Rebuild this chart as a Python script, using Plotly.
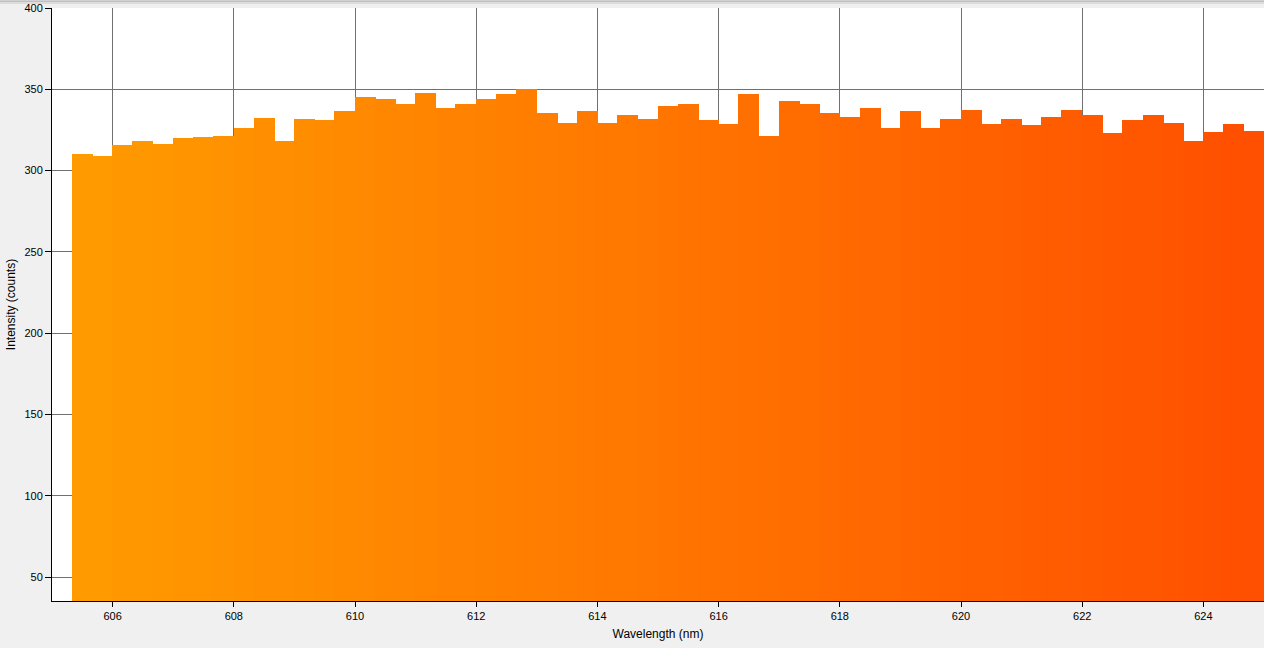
import plotly.graph_objects as go

# Spectrum bins (nm, bin centres) and measured intensity
wavelength = [
    605.50, 605.83, 606.17, 606.50, 606.83, 607.17, 607.50, 607.83, 608.17, 608.50,
    608.83, 609.17, 609.50, 609.83, 610.17, 610.50, 610.83, 611.17, 611.50, 611.83,
    612.17, 612.50, 612.83, 613.17, 613.50, 613.83, 614.17, 614.50, 614.83, 615.17,
    615.50, 615.83, 616.17, 616.50, 616.83, 617.17, 617.50, 617.83, 618.17, 618.50,
    618.83, 619.17, 619.50, 619.83, 620.17, 620.50, 620.83, 621.17, 621.50, 621.83,
    622.17, 622.50, 622.83, 623.17, 623.50, 623.83, 624.17, 624.50, 624.83,
]
intensity = [
    310, 309, 315.5, 318.5, 316.5, 320, 320.5, 321.5, 326, 332.5,
    318, 331.5, 331, 336.5, 345.5, 344, 340.8, 347.5, 338.8, 341,
    344, 347, 350, 335.5, 329.5, 336.5, 329.5, 334.5, 331.5, 339.5,
    340.7, 331, 328.5, 347, 321.5, 342.5, 341, 335.5, 332.7, 338.8,
    326, 336.5, 326.5, 331.5, 337.5, 328.5, 331.5, 328, 332.7, 337.5,
    334, 323, 331, 334.5, 329.5, 318.5, 323.5, 328.5, 324.5,
]
x_ticks = [606, 608, 610, 612, 614, 616, 618, 620, 622, 624]
y_ticks = [50, 100, 150, 200, 250, 300, 350, 400]


def wl_color(wl):
    # simple wavelength -> rgb for the orange/red band
    g = max(0, min(255, round(255 * (645 - wl) / 65)))
    return f"rgb(255,{g},0)"


fig = go.Figure()
fig.add_trace(go.Bar(
    x=wavelength, y=intensity, width=0.345,
    marker=dict(color=[wl_color(w) for w in wavelength], line_width=0),
    showlegend=False,
))

font = "Liberation Sans, Arial, sans-serif"
fig.update_layout(
    width=1264, height=648,
    margin=dict(l=52, r=0, t=8, b=47),
    paper_bgcolor="#F0F0F0", plot_bgcolor="white",
    bargap=0,
    font=dict(family=font, size=11, color="black"),
    shapes=[
        dict(type="line", xref="paper", yref="paper", x0=-0.05, x1=1.01,
             y0=1.0116, y1=1.0116, line=dict(color="#A0A0A0", width=1)),
        dict(type="line", xref="paper", yref="paper", x0=-0.05, x1=1.01,
             y0=1.0083, y1=1.0083, line=dict(color="#C8C8C8", width=1)),
    ],
)
fig.update_xaxes(
    range=[605, 625], tickvals=x_ticks,
    showgrid=True, gridcolor="#707070", gridwidth=1,
    showline=True, linecolor="black", linewidth=1,
    ticks="outside", ticklen=5, tickcolor="black",
    zeroline=False,
    title=dict(text="Wavelength (nm)", font=dict(size=12), standoff=8),
)
fig.update_yaxes(
    range=[35.3, 400], tickvals=y_ticks,
    showgrid=True, gridcolor="#707070", gridwidth=1,
    showline=True, linecolor="black", linewidth=1,
    ticks="outside", ticklen=6, tickcolor="black",
    zeroline=False,
    title=dict(text="Intensity (counts)", font=dict(size=12), standoff=6),
)

# no page margin, so the figure fills the window
fig.write_html(
    "out.html",
    config={"displayModeBar": False},
    post_script="document.body.style.margin='0';"
                "document.body.style.background='#F0F0F0';"
                "document.body.style.overflow='hidden';",
)
